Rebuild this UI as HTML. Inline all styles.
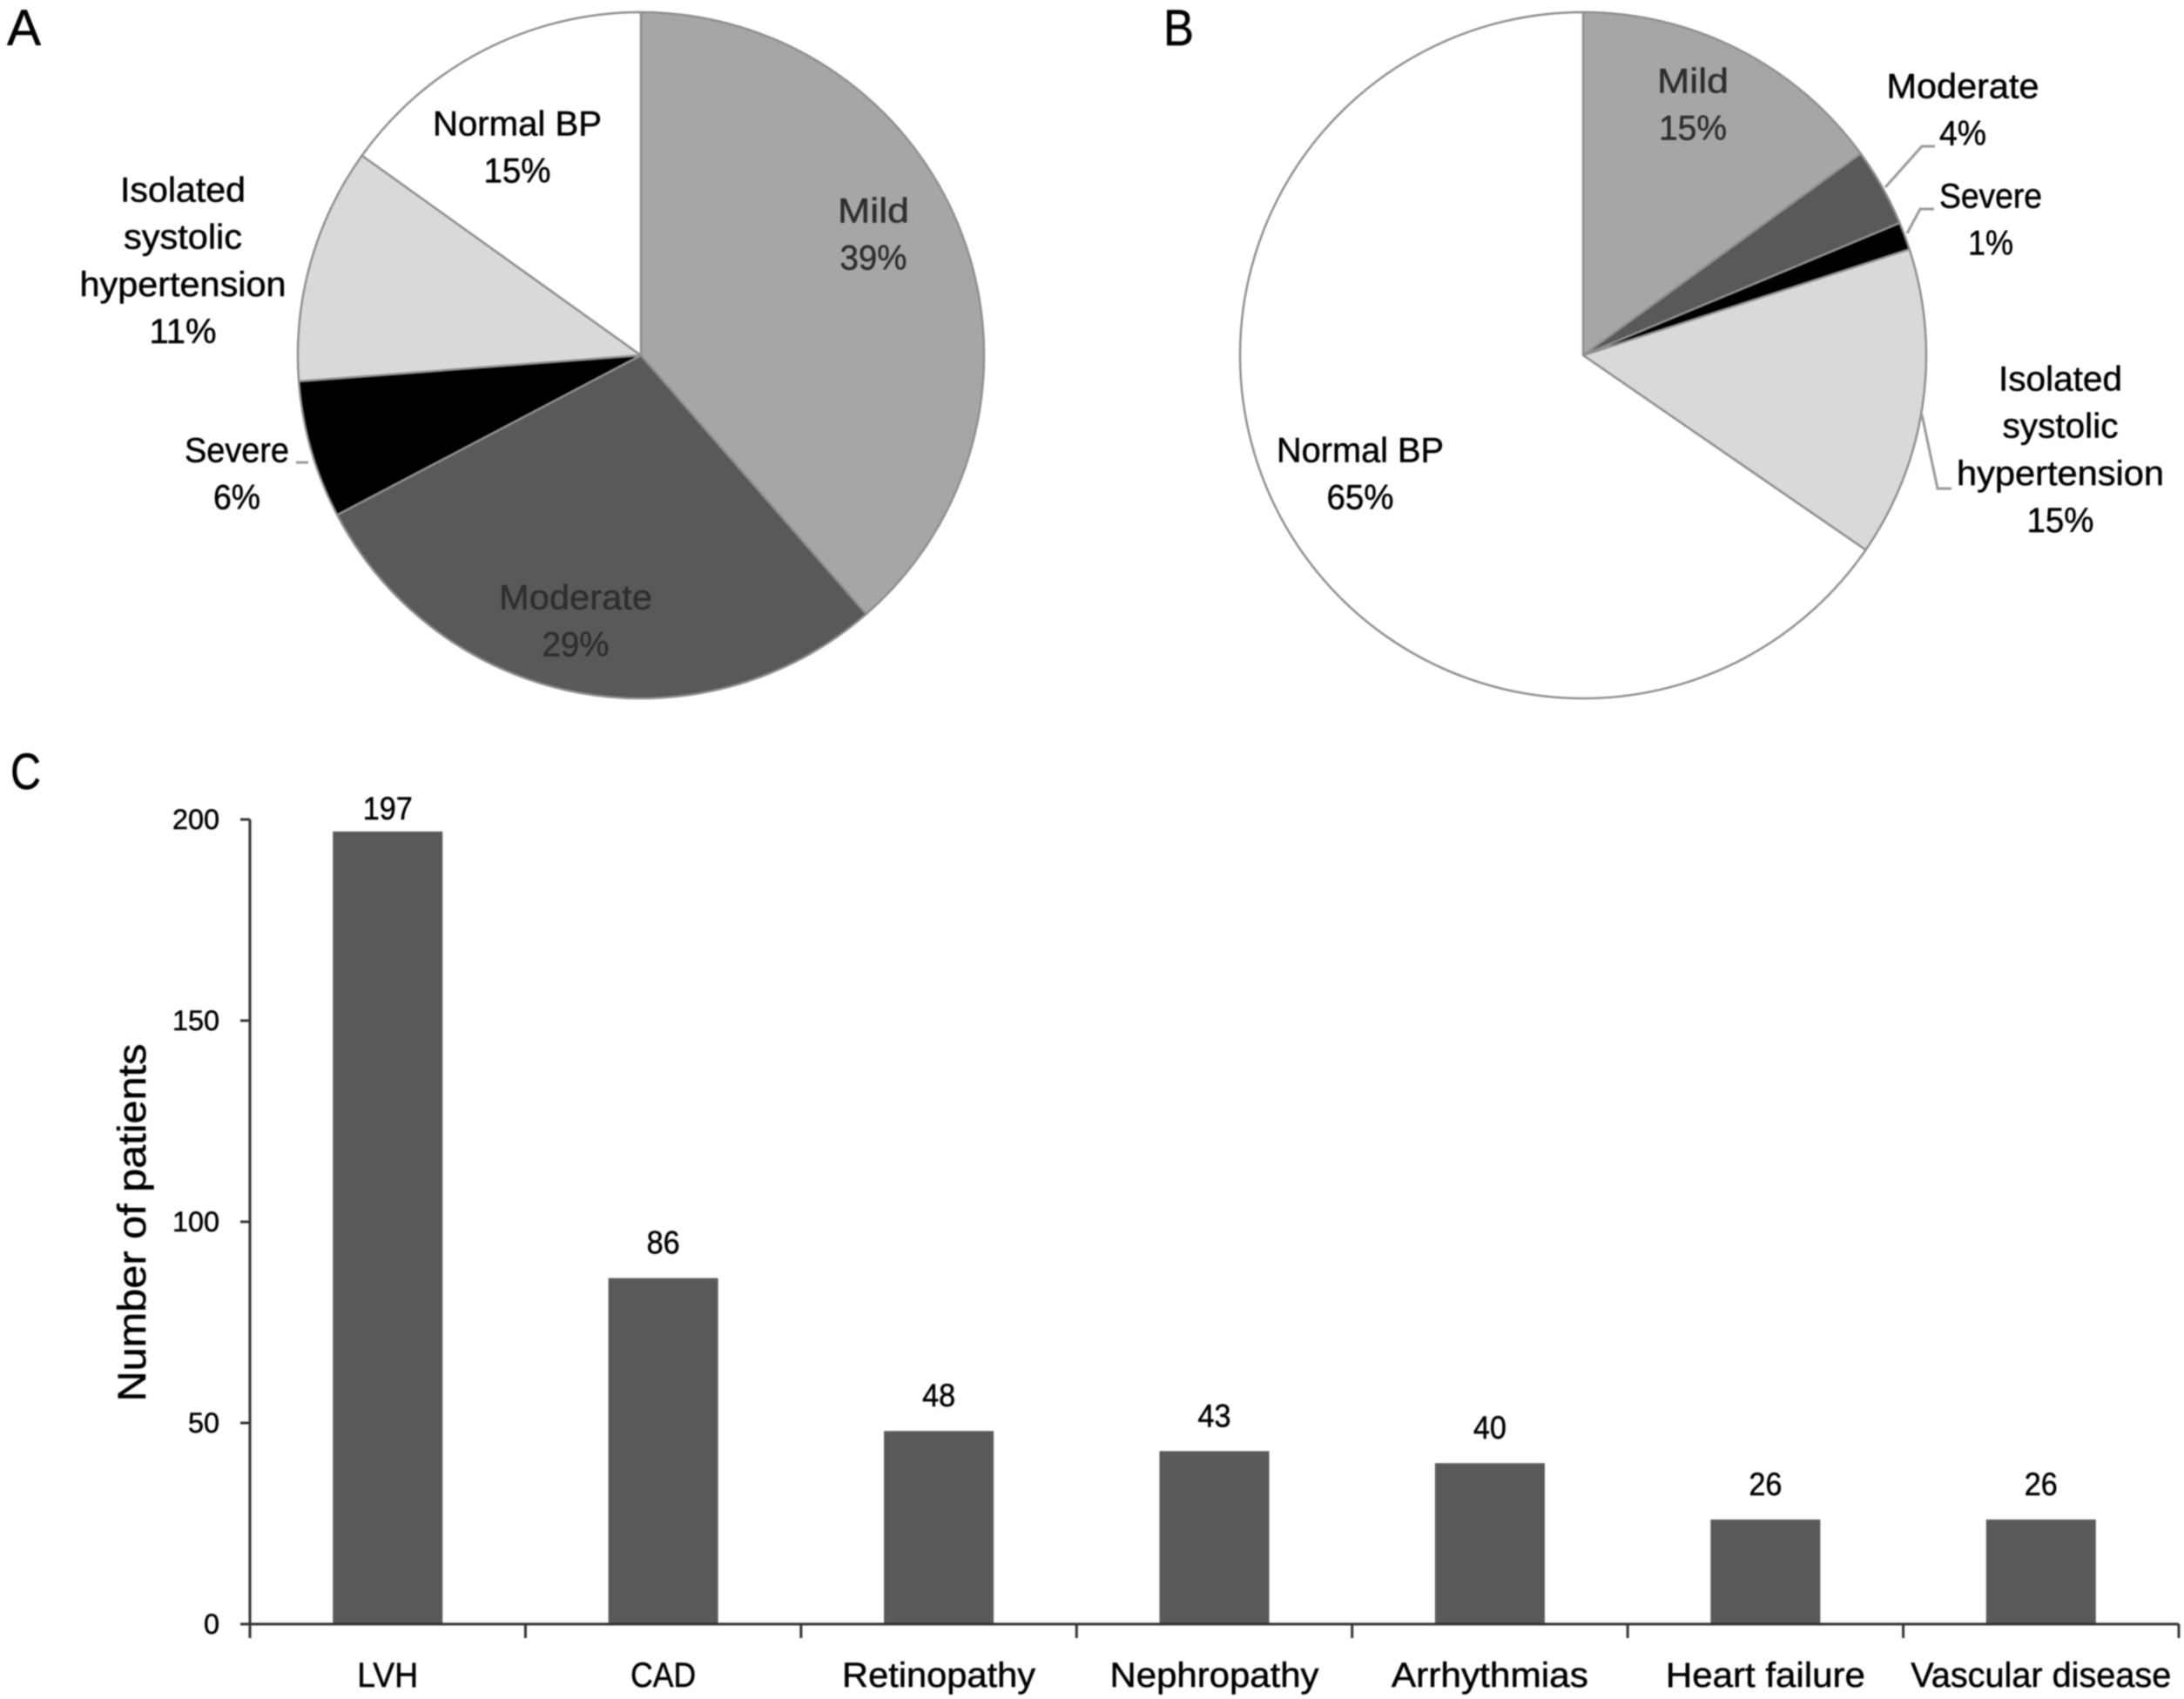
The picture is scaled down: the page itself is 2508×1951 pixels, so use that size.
<!DOCTYPE html>
<html lang="en">
<head>
<meta charset="utf-8">
<title>Blood pressure categories and complications</title>
<style>
  html, body { margin: 0; padding: 0; background: #fff; }
  #figure { display: block; width: 2508px; height: 1951px; filter: blur(0.8px); }
  text { font-family: "Liberation Sans", "DejaVu Sans", sans-serif; fill: #000; stroke: #000; stroke-width: 0.5px; }
</style>
</head>
<body>
<svg id="figure" xmlns="http://www.w3.org/2000/svg" width="2508" height="1951" viewBox="0 0 2508 1951">
  <text x="8" y="52" font-size="58" textLength="39" lengthAdjust="spacingAndGlyphs">A</text>
  <text x="1336" y="52" font-size="58" textLength="35" lengthAdjust="spacingAndGlyphs">B</text>
  <text x="12" y="906" font-size="58" textLength="35" lengthAdjust="spacingAndGlyphs">C</text>
  <g id="pie-a"></g>
  <g id="pie-b"></g>
  <g id="bars"></g>
</svg>
<script>
// ---- Pie data ----
const sliceNames = ['Mild', 'Moderate', 'Severe', 'Isolated systolic hypertension', 'Normal BP'];
const sliceLines = [['Mild'], ['Moderate'], ['Severe'], ['Isolated', 'systolic', 'hypertension'], ['Normal BP']];
const pieValuesA = [38.6, 28.7, 6.49, 11.1, 15.11];
const pieValuesB = [15, 3.7, 1.3, 14.6, 65.4];

// ---- Bar data ----
const barCategories = ['LVH', 'CAD', 'Retinopathy', 'Nephropathy', 'Arrhythmias', 'Heart failure', 'Vascular disease'];
const barValues = [197, 86, 48, 43, 40, 26, 26];
const yTicks = [0, 50, 100, 150, 200];

// ---- Styling / layout (not data) ----
const sliceFills = ['#a6a6a6', '#595959', '#000000', '#d9d9d9', '#ffffff'];
const pieGeomA = { cx: 736, cy: 408, r: 394 };
const pieGeomB = { cx: 1818, cy: 408, r: 394 };
const labelLayoutA = [
  { cx: 1003, cy: 242, color: '#2e2e2e', widths: [82, 77] },
  { cx: 661, cy: 686, color: '#2e2e2e', widths: [176, 77] },
  { cx: 272, cy: 517, color: '#000', widths: [120, 54] },
  { cx: 210, cy: 218, color: '#000', widths: [144, 136, 237, 77] },
  { cx: 594, cy: 142, color: '#000', widths: [194, 77] }
];
const labelLayoutB = [
  { cx: 1944, cy: 93, color: '#2e2e2e', widths: [82, 78] },
  { cx: 2254, cy: 99, color: '#000', widths: [175, 54] },
  { cx: 2286, cy: 225, color: '#000', widths: [118, 52] },
  { cx: 2366, cy: 435, color: '#000', widths: [142, 133, 238, 77] },
  { cx: 1562, cy: 517, color: '#000', widths: [192, 77] }
];
const leadersA = ['M340 531 H354'];
const leadersB = ['M2165 215 L2207 168 H2222', 'M2190 268 L2205 240 H2221', 'M2207 476 L2225 561 H2241'];
const barTextWidths = [70, 75, 222, 240, 226, 229, 299];

const NS = 'http://www.w3.org/2000/svg';
function el(tag, attrs, parent) {
  const node = document.createElementNS(NS, tag);
  Object.keys(attrs).forEach(function (k) { node.setAttribute(k, attrs[k]); });
  parent.appendChild(node);
  return node;
}
function slug(s) { return s.toLowerCase().replace(/[^a-z0-9]+/g, '-'); }

function drawPie(groupId, panel, values, geom, layout, leaders) {
  const g = document.getElementById(groupId);
  const total = values.reduce(function (a, b) { return a + b; }, 0);
  let acc = 0;
  values.forEach(function (v, i) {
    const a0 = acc / total * 2 * Math.PI;
    acc += v;
    const a1 = acc / total * 2 * Math.PI;
    const x0 = geom.cx + geom.r * Math.sin(a0), y0 = geom.cy - geom.r * Math.cos(a0);
    const x1 = geom.cx + geom.r * Math.sin(a1), y1 = geom.cy - geom.r * Math.cos(a1);
    const large = (a1 - a0) > Math.PI ? 1 : 0;
    const d = 'M' + geom.cx + ' ' + geom.cy + ' L' + x0 + ' ' + y0 +
      ' A' + geom.r + ' ' + geom.r + ' 0 ' + large + ' 1 ' + x1 + ' ' + y1 + ' Z';
    const slice = el('path', { d: d, fill: sliceFills[i], stroke: '#8f8f8f', 'stroke-width': 2.5, 'stroke-linejoin': 'round' }, g);
    
    
  });
  leaders.forEach(function (d) {
    const line = el('path', { d: d, fill: 'none', stroke: '#9a9a9a', 'stroke-width': 3 }, g);
    
    
  });
  values.forEach(function (v, i) {
    const lay = layout[i];
    const lines = sliceLines[i].concat([Math.round(v / total * 100) + '%']);
    lines.forEach(function (txt, j) {
      const t = el('text', {
        x: lay.cx, y: lay.cy + j * 54.2 + 13.5, 'font-size': 40, 'text-anchor': 'middle',
        textLength: lay.widths[j], lengthAdjust: 'spacingAndGlyphs',
        style: 'fill:' + lay.color + ';stroke:' + lay.color
      }, g);
      
      
      t.textContent = txt;
    });
  });
}
drawPie('pie-a', 'a', pieValuesA, pieGeomA, labelLayoutA, leadersA);
drawPie('pie-b', 'b', pieValuesB, pieGeomB, labelLayoutB, leadersB);

// ---- Bar chart ----
(function () {
  const g = document.getElementById('bars');
  const x0 = 287, x1 = 2502, y0 = 1865, yTop = 941, yMax = 200, barW = 126;
  const step = (x1 - x0) / barCategories.length;
  const yScale = function (v) { return y0 - v / yMax * (y0 - yTop); };
  const xCenter = function (i) { return x0 + step * (i + 0.5); };

  barValues.forEach(function (v, i) {
    const bar = el('rect', { x: xCenter(i) - barW / 2, y: yScale(v), width: barW, height: y0 - yScale(v), fill: '#595959' }, g);
    
    

    const val = el('text', {
      x: xCenter(i), y: Math.max(yScale(v) - 28, 941), 'font-size': 37, 'text-anchor': 'middle',
      textLength: String(v).length * 19, lengthAdjust: 'spacingAndGlyphs'
    }, g);
    
    
    val.textContent = v;

    const cat = el('text', {
      x: xCenter(i), y: 1937, 'font-size': 40, 'text-anchor': 'middle',
      textLength: barTextWidths[i], lengthAdjust: 'spacingAndGlyphs'
    }, g);
    
    
    cat.textContent = barCategories[i];
  });

  const yAxis = el('line', { x1: x0, x2: x0, y1: yTop, y2: 1881, stroke: '#333', 'stroke-width': 3 }, g);
  
  

  const xAxis = el('line', { x1: 276, x2: x1, y1: y0, y2: y0, stroke: '#333', 'stroke-width': 3 }, g);
  
  

  for (let i = 1; i <= barCategories.length; i++) {
    const tx = x0 + step * i;
    const tick = el('line', { x1: tx, x2: tx, y1: y0, y2: 1881, stroke: '#333', 'stroke-width': 3 }, g);
    
    
  }

  yTicks.forEach(function (v) {
    const y = yScale(v);
    const tick = el('line', { x1: 276, x2: x0, y1: y, y2: y, stroke: '#333', 'stroke-width': 3 }, g);
    
    

    const lab = el('text', {
      x: 252, y: y + 11, 'font-size': 32, 'text-anchor': 'end',
      textLength: String(v).length * 18, lengthAdjust: 'spacingAndGlyphs'
    }, g);
    
    
    lab.textContent = v;
  });

  const title = el('text', {
    transform: 'translate(167 1404) rotate(-90)', 'font-size': 45, 'text-anchor': 'middle',
    textLength: 411, lengthAdjust: 'spacingAndGlyphs'
  }, g);
  
  
  title.textContent = 'Number of patients';
})();
</script>
</body>
</html>
